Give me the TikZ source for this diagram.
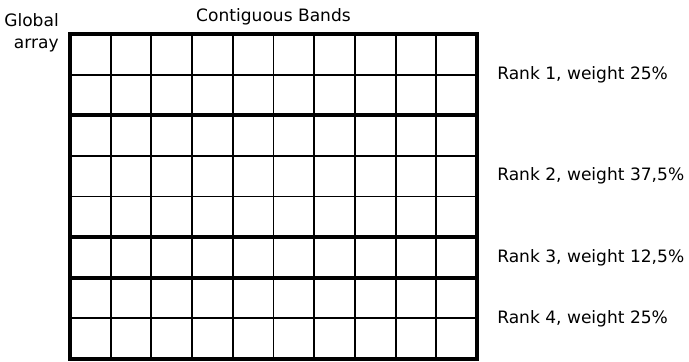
\documentclass[tikz,border=0pt]{standalone}
\usepackage{fontspec}
\setmainfont{DejaVu Sans}
\usetikzlibrary{positioning}

\begin{document}
\begin{tikzpicture}[x=0.75pt, y=-0.75pt]
    \useasboundingbox (0,0) rectangle (689,361);

    %
    \tikzset{cell/.style={line width=1.4pt},
             band/.style={line width=2.7pt, line cap=rect},
             lbl/.style={font=\fontsize{12.8}{15.8}\selectfont, inner sep=0pt}}

    %
    \foreach \i in {1,...,9} {
        \draw[cell] ({70+\i*40.7},34) -- ({70+\i*40.7},359);
    }
    \foreach \j in {1,...,7} {
        \draw[cell] (70,{34+\j*40.625}) -- (477,{34+\j*40.625});
    }

    %
    \foreach \j in {2,5,6} {
        \draw[band] (70,{34+\j*40.625}) -- (477,{34+\j*40.625});
    }
    \draw[band] (70,34) rectangle (477,359);

    %
    \node[lbl, anchor=base east, align=right] (global) at (59,48) {Global\\array};
    \node[lbl, anchor=base] (title) at (273.5,21) {Contiguous Bands};

    %
    \foreach \r/\w/\y in {1/25/74.6, 2/{37,5}/176.2, 3/{12,5}/257.4, 4/25/318.4} {
        \node[lbl, anchor=west] (rank\r) at (497,\y) {Rank \r, weight \w\%};
    }
\end{tikzpicture}
\end{document}
